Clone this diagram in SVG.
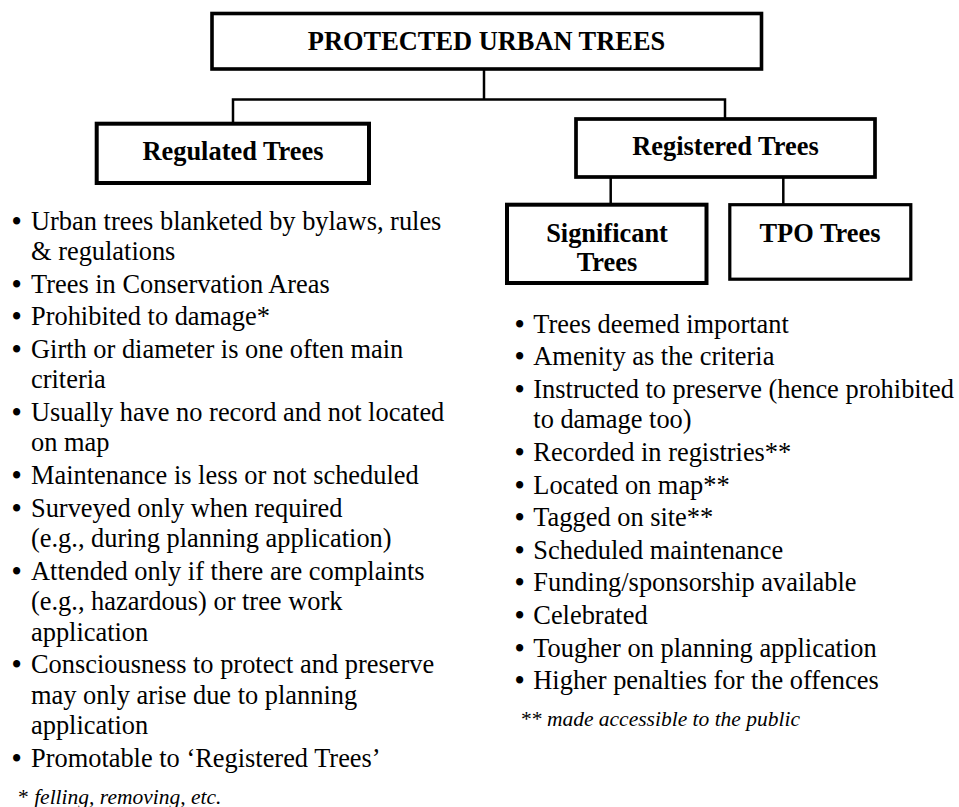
<svg xmlns="http://www.w3.org/2000/svg" width="959" height="807" viewBox="0 0 959 807">
<style>
.box{fill:#fff;stroke:#000;stroke-width:4}
.conn{fill:none;stroke:#000;stroke-width:2.5}
.lbl{font-family:"Liberation Serif","Times New Roman",serif;font-size:26.4px;font-weight:bold;fill:#000;text-anchor:middle}
.txt{font-family:"Liberation Serif","Times New Roman",serif;font-size:26.4px;fill:#000}
.b{font-weight:bold}
.note{font-family:"Liberation Serif","Times New Roman",serif;font-size:21.5px;font-style:italic;fill:#000}
</style>
<rect width="959" height="807" fill="#fff"/>
<g id="connectors">
<path class="conn" d="M484,69 V99.5"/>
<path class="conn" d="M233,123.7 V99.5 H725 V119"/>
<path class="conn" d="M610.7,177 V204.7"/>
<path class="conn" d="M783.3,177 V204.7"/>
</g>
<g id="protected-urban-trees">
<rect class="box" x="212" y="13.5" width="549.5" height="55.5" style="stroke-width:3.6"/>
<text class="lbl" x="486.5" y="50">PROTECTED URBAN TREES</text>
</g>
<g id="regulated-trees">
<rect class="box" x="96.7" y="123.7" width="272.3" height="59.3"/>
<text class="lbl" x="233" y="160">Regulated Trees</text>
</g>
<g id="registered-trees">
<rect class="box" x="576" y="119" width="299" height="58" style="stroke-width:3.7"/>
<text class="lbl" x="725.5" y="154.5">Registered Trees</text>
</g>
<g id="significant-trees">
<rect class="box" x="507" y="204.7" width="199.5" height="78.3"/>
<text class="lbl" x="607" y="241.7">Significant</text>
<text class="lbl" x="607" y="270.7">Trees</text>
</g>
<g id="tpo-trees">
<rect class="box" x="729.8" y="204.7" width="181" height="74.5" style="stroke-width:3.2"/>
<text class="lbl" x="820" y="241.7">TPO Trees</text>
</g>
<g id="regulated-list" class="txt">
<text x="12" y="229.5"><tspan class="b">•</tspan><tspan x="31">Urban trees blanketed by bylaws, rules</tspan></text>
<text x="31" y="260">&amp; regulations</text>
<text x="12" y="292.6"><tspan class="b">•</tspan><tspan x="31">Trees in Conservation Areas</tspan></text>
<text x="12" y="325.2"><tspan class="b">•</tspan><tspan x="31">Prohibited to damage*</tspan></text>
<text x="12" y="357.8"><tspan class="b">•</tspan><tspan x="31">Girth or diameter is one often main</tspan></text>
<text x="31" y="388.3">criteria</text>
<text x="12" y="420.9"><tspan class="b">•</tspan><tspan x="31">Usually have no record and not located</tspan></text>
<text x="31" y="451.4">on map</text>
<text x="12" y="484"><tspan class="b">•</tspan><tspan x="31">Maintenance is less or not scheduled</tspan></text>
<text x="12" y="516.6"><tspan class="b">•</tspan><tspan x="31">Surveyed only when required</tspan></text>
<text x="31" y="547.1">(e.g., during planning application)</text>
<text x="12" y="579.7"><tspan class="b">•</tspan><tspan x="31">Attended only if there are complaints</tspan></text>
<text x="31" y="610.2">(e.g., hazardous) or tree work</text>
<text x="31" y="640.7">application</text>
<text x="12" y="673.3"><tspan class="b">•</tspan><tspan x="31">Consciousness to protect and preserve</tspan></text>
<text x="31" y="703.8">may only arise due to planning</text>
<text x="31" y="734.3">application</text>
<text x="12" y="766.9"><tspan class="b">•</tspan><tspan x="31">Promotable to ‘Registered Trees’</tspan></text>
<text class="note" x="18" y="803.5"><tspan style="font-style:normal">*</tspan> felling, removing, etc.</text>
</g>
<g id="registered-list" class="txt">
<text x="515" y="332.7"><tspan class="b">•</tspan><tspan x="533.3">Trees deemed important</tspan></text>
<text x="515" y="365.3"><tspan class="b">•</tspan><tspan x="533.3">Amenity as the criteria</tspan></text>
<text x="515" y="397.9"><tspan class="b">•</tspan><tspan x="533.3">Instructed to preserve (hence prohibited</tspan></text>
<text x="533.3" y="428.4">to damage too)</text>
<text x="515" y="461"><tspan class="b">•</tspan><tspan x="533.3">Recorded in registries**</tspan></text>
<text x="515" y="493.6"><tspan class="b">•</tspan><tspan x="533.3">Located on map**</tspan></text>
<text x="515" y="526.2"><tspan class="b">•</tspan><tspan x="533.3">Tagged on site**</tspan></text>
<text x="515" y="558.8"><tspan class="b">•</tspan><tspan x="533.3">Scheduled maintenance</tspan></text>
<text x="515" y="591.4"><tspan class="b">•</tspan><tspan x="533.3">Funding/sponsorship available</tspan></text>
<text x="515" y="624"><tspan class="b">•</tspan><tspan x="533.3">Celebrated</tspan></text>
<text x="515" y="656.6"><tspan class="b">•</tspan><tspan x="533.3">Tougher on planning application</tspan></text>
<text x="515" y="689.2"><tspan class="b">•</tspan><tspan x="533.3">Higher penalties for the offences</tspan></text>
<text class="note" x="520" y="726">** made accessible to the public</text>
</g>
</svg>
